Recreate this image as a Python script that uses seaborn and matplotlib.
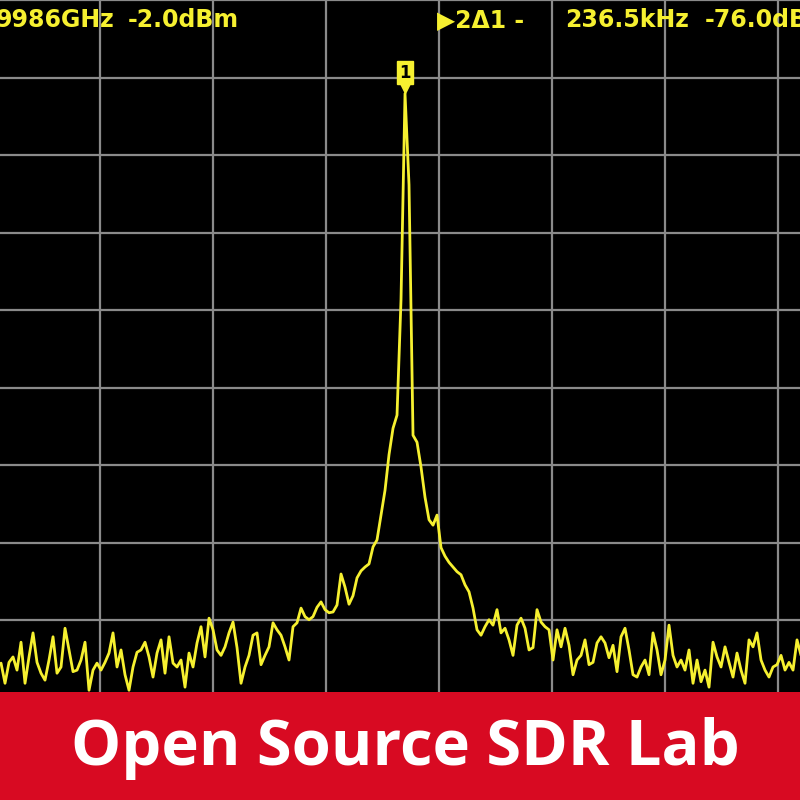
"""Captura de analizador de espectro: portadora con marcador y banner."""

import matplotlib
matplotlib.use("Agg")
import matplotlib.pyplot as plt
import matplotlib.transforms as mtransforms
from matplotlib.patches import Rectangle
from matplotlib.ticker import MultipleLocator
import numpy as np
import pandas as pd
import seaborn as sns

# barrido: 201 puntos, frecuencia relativa en kHz (50 kHz/div)
f_inicio = -193.8
f_fin = 160.2

# nivel medido en dBm para cada punto del barrido
niveles = [
    -75.5, -78.1, -75.4, -74.7, -76.4, -72.8, -78.1, -74.7, -71.6, -75.4,
    -76.8, -77.7, -75.1, -72.1, -76.8, -76.0, -71.0, -73.8, -76.6, -76.4,
    -75.1, -72.8, -79.0, -76.4, -75.5, -76.4, -75.4, -74.2, -71.6, -76.0,
    -73.8, -77.0, -79.0, -76.0, -74.1, -73.8, -72.8, -74.7, -77.3, -74.2,
    -72.5, -76.8, -72.1, -75.5, -76.0, -75.1, -78.6, -74.2, -76.0, -72.9,
    -70.8, -74.7, -69.7, -71.2, -73.8, -74.5, -73.4, -71.6, -70.2, -73.5,
    -78.1, -76.0, -74.5, -71.9, -71.6, -75.7, -74.5, -73.4, -70.3, -71.2,
    -71.9, -73.4, -75.1, -70.8, -70.3, -68.4, -69.5, -69.9, -69.5, -68.3,
    -67.6, -68.6, -69.0, -68.9, -68.0, -64.0, -65.7, -67.9, -66.8, -64.5,
    -63.6, -63.1, -62.7, -60.5, -59.6, -56.4, -53.2, -48.6, -45.2, -43.5,
    -28.6, -2.0, -13.8, -46.1, -47.0, -50.2, -54.1, -57.0, -57.7, -56.4,
    -60.6, -61.7, -62.5, -63.1, -63.7, -64.1, -65.4, -66.3, -68.4, -71.2,
    -71.9, -70.8, -69.9, -70.6, -68.6, -71.6, -71.0, -72.5, -74.5, -70.6,
    -69.7, -71.0, -73.8, -73.5, -68.6, -70.2, -70.8, -71.2, -75.1, -71.2,
    -73.4, -71.0, -73.2, -77.0, -75.1, -74.5, -72.5, -75.7, -75.4, -72.9,
    -72.1, -72.9, -74.8, -73.2, -76.6, -72.1, -71.0, -73.8, -77.0, -77.3,
    -76.0, -75.1, -77.0, -71.6, -73.8, -77.0, -75.1, -70.6, -74.5, -76.0,
    -75.1, -76.4, -73.8, -78.1, -75.1, -77.9, -76.4, -78.6, -72.8, -74.7,
    -76.0, -73.4, -75.4, -77.3, -74.2, -76.4, -78.1, -72.5, -73.4, -71.6,
    -75.1, -76.4, -77.3, -76.0, -75.7, -74.5, -76.4, -75.4, -76.4, -72.5,
    -74.5,
]

textos_cabecera = ["9986GHz", "-2.0dBm", "\u25b62\u03941 -", "236.5kHz", "-76.0dB"]
marcador = "1"
titulo_banner = "Open Source SDR Lab"

AMARILLO = "#F6F030"
ROJO = "#D80A22"
GRIS = "#8a8a8a"

sns.set_theme(style="dark")
plt.rcParams["font.family"] = ["DejaVu Sans", "DejaVu Sans Mono"]

frecuencias = np.linspace(f_inicio, f_fin, len(niveles))
df = pd.DataFrame({"frecuencia": frecuencias, "nivel": niveles})

fig = plt.figure(figsize=(8, 8), dpi=100, facecolor="black")
ax = fig.add_axes([0, 0, 1, 1])
ax.set_facecolor("black")

sns.lineplot(data=df, x="frecuencia", y="nivel", ax=ax, color=AMARILLO,
             linewidth=2.0, estimator=None, sort=False, zorder=3)

ax.set_xlim(-194.25, 159.75)
ax.set_ylim(-93.16, 10.06)
ax.xaxis.set_major_locator(MultipleLocator(50))
ax.yaxis.set_major_locator(MultipleLocator(10))
ax.grid(True, color=GRIS, linewidth=1.6)
ax.tick_params(left=False, bottom=False, labelleft=False, labelbottom=False)
ax.set_xlabel("")
ax.set_ylabel("")
for s in ax.spines.values():
    s.set_visible(False)

# marcador 1 sobre el pico
i_pico = int(np.argmax(niveles))
f_pico = frecuencias[i_pico]
n_pico = niveles[i_pico]
punta = mtransforms.offset_copy(ax.transData, fig=fig, y=4.5, units="points")
ax.plot([f_pico], [n_pico], marker="v", markersize=9, color=AMARILLO,
        transform=punta, zorder=4)
ax.annotate(marcador, xy=(f_pico, n_pico), xytext=(0, 15),
            textcoords="offset points", ha="center", va="center",
            fontsize=12, fontweight="bold", color="black", zorder=5,
            bbox=dict(boxstyle="square,pad=0.15", fc=AMARILLO, ec=AMARILLO))

# cabecera del instrumento
pos_x = [-4, 128, 437, 565, 705]
for txt, px in zip(textos_cabecera, pos_x):
    fig.text(px / 800, 1 - 27 / 800, txt, color=AMARILLO, fontsize=17,
             fontweight="bold", ha="left", va="baseline")

# banner inferior
fig.patches.append(Rectangle((0, 0), 1, 108 / 800, transform=fig.transFigure,
                             facecolor=ROJO, edgecolor="none", zorder=10))
fig.text(0.507, 1 - 765 / 800, titulo_banner, color="white", fontsize=45.5,
         fontweight="bold", family=["Open Sans", "DejaVu Sans"], ha="center",
         va="baseline", zorder=11)

fig.savefig("out.png", dpi=100, facecolor="black")
